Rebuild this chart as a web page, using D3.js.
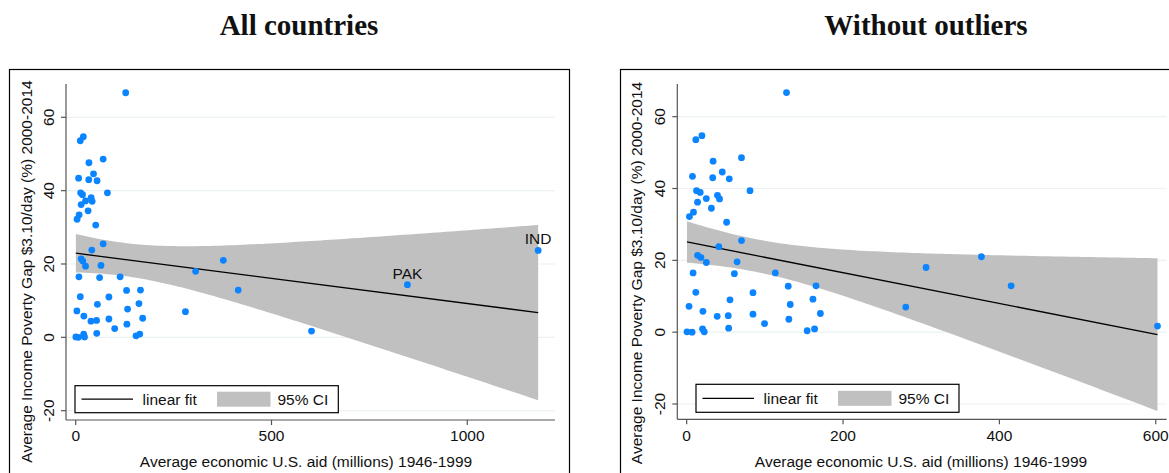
<!DOCTYPE html>
<html><head><meta charset="utf-8">
<script src="https://cdn.jsdelivr.net/npm/d3@7"></script>
<style>body{margin:0;background:#fff}svg{display:block}</style>
</head><body><svg id="c" width="1169" height="473"></svg>
<script>
// ---- data ----
const aidX = [127.7,11.7,19.5,7.4,33.8,70.1,45.5,33.3,54.5,12.6,17.3,81,25.1,39.4,42,13.9,31.6,8.7,3.5,51.1,70.1,41.1,13.9,18.2,25.1,64.5,113.4,8.2,61,11.7,84.8,129.9,165.4,55.4,161.5,132.5,3,171,20.8,84.8,53.2,39,130.7,99.6,53.7,163.6,154.1,0.4,6.9,20.3,22.5,280.2,306.2,377,415,602.2];
const gapY = [66.7,53.6,54.7,43.4,47.6,48.6,44.6,43.0,42.7,39.4,38.9,39.4,37.2,38.1,37.1,36.2,34.5,33.4,32.2,30.6,25.5,23.8,21.4,20.8,19.4,19.6,16.5,16.5,16.3,11.1,11.0,12.8,12.9,9.0,9.2,7.7,7.2,5.2,5.8,5.0,4.6,4.4,3.6,2.4,1.1,0.9,0.4,0.1,0,0.9,0.1,7.0,18.0,21.0,12.9,1.7];
const outlierCodes = ["PAK","IND"];
const outlierX = [847, 1181];
const outlierY = [14.35, 23.7];
const panelTitles = ["All countries","Without outliers"];
const xTicksAll = [0,500,1000];
const xTicksTrim = [0,200,400,600];
const yTicks = [-20,0,20,40,60];
const yTitle = "Average Income Poverty Gap $3.10/day (%) 2000-2014";
const xTitle = "Average economic U.S. aid (millions) 1946-1999";
const legendLabels = ["linear fit","95% CI"];

// ---- helpers ----
function tQuant(df){ // 97.5% quantile of t distribution (Cornish-Fisher expansion)
  const z = 1.959964;
  return z + (z**3+z)/(4*df) + (5*z**5+16*z**3+3*z)/(96*df*df) + (3*z**7+19*z**5+17*z**3-15*z)/(384*df**3);
}
function linfit(xs, ys){
  const n = xs.length, mx = d3.mean(xs), my = d3.mean(ys);
  let sxx=0, sxy=0;
  for(let i=0;i<n;i++){ sxx += (xs[i]-mx)**2; sxy += (xs[i]-mx)*(ys[i]-my); }
  const b = sxy/sxx, a = my - b*mx;
  let sse=0; for(let i=0;i<n;i++) sse += (ys[i]-a-b*xs[i])**2;
  const s = Math.sqrt(sse/(n-2)), t = tQuant(n-2);
  return {pred: x => a+b*x, half: x => t*s*Math.sqrt(1/n + (x-mx)**2/sxx)};
}

const svg = d3.select("#c");
const sans = "'Liberation Sans', Arial, sans-serif";
const FS = 15.5;

function panel(cfg){
  const g = svg.append("g");
  g.append("rect").attr("x",cfg.box[0]).attr("y",cfg.box[1]).attr("width",cfg.box[2]).attr("height",cfg.box[3])
    .attr("fill","none").attr("stroke","#000").attr("stroke-width",1.2);
  svg.append("text").attr("x",cfg.titleX).attr("y",35).attr("text-anchor","middle")
    .attr("font-family","'Liberation Serif', 'Times New Roman', serif").attr("font-weight","bold")
    .attr("font-size",29).attr("fill","#111").text(cfg.title);

  const x = d3.scaleLinear().domain(cfg.xDom).range(cfg.xRange);
  const y = d3.scaleLinear().domain(cfg.yDom).range(cfg.yRange);
  const [L,R] = cfg.xRange, [B,T] = cfg.yRange;

  g.selectAll(".grid").data(yTicks).join("line")
    .attr("x1",L).attr("x2",R).attr("y1",d=>y(d)).attr("y2",d=>y(d))
    .attr("stroke","#eaf2f3").attr("stroke-width",1.2);

  const f = linfit(cfg.xs, cfg.ys);
  const x0 = d3.min(cfg.xs), x1 = d3.max(cfg.xs);
  const grid = d3.range(0,101).map(i => x0 + (x1-x0)*i/100);
  g.append("path").datum(grid)
    .attr("d", d3.area().x(d=>x(d)).y0(d=>y(f.pred(d)-f.half(d))).y1(d=>y(f.pred(d)+f.half(d))))
    .attr("fill","#c0c0c0");
  g.append("line").attr("x1",x(x0)).attr("x2",x(x1)).attr("y1",y(f.pred(x0))).attr("y2",y(f.pred(x1)))
    .attr("stroke","#000").attr("stroke-width",1.3);

  g.selectAll(".pt").data(d3.range(cfg.xs.length)).join("circle")
    .attr("cx",i=>x(cfg.xs[i])).attr("cy",i=>y(cfg.ys[i])).attr("r",3.4).attr("fill","#0a84ff");
  if(cfg.labels){
    g.selectAll(".lab").data(d3.range(cfg.labels.length)).join("text")
      .attr("x",i=>x(cfg.labX[i])).attr("y",i=>y(cfg.labY[i])-6).attr("text-anchor","middle")
      .attr("font-family",sans).attr("font-size",FS).attr("fill","#111").text(i=>cfg.labels[i]);
  }

  const axCol = "#555";
  g.append("line").attr("x1",L).attr("x2",L).attr("y1",T).attr("y2",B).attr("stroke",axCol).attr("stroke-width",1.2);
  g.append("line").attr("x1",L).attr("x2",R).attr("y1",B).attr("y2",B).attr("stroke",axCol).attr("stroke-width",1.2);
  g.selectAll(".yt").data(yTicks).join("line").attr("x1",L-5).attr("x2",L).attr("y1",d=>y(d)).attr("y2",d=>y(d))
    .attr("stroke",axCol).attr("stroke-width",1.2);
  g.selectAll(".ytl").data(yTicks).join("text")
    .attr("transform",d=>`translate(${L-12.5},${y(d)}) rotate(-90)`).attr("text-anchor","middle")
    .attr("font-family",sans).attr("font-size",FS).attr("fill","#111").text(d=>d);
  g.selectAll(".xt").data(cfg.xTicks).join("line").attr("x1",d=>x(d)).attr("x2",d=>x(d)).attr("y1",B).attr("y2",B+5)
    .attr("stroke",axCol).attr("stroke-width",1.2);
  g.selectAll(".xtl").data(cfg.xTicks).join("text")
    .attr("x",d=>x(d)).attr("y",440.5).attr("text-anchor","middle")
    .attr("font-family",sans).attr("font-size",FS).attr("fill","#111").text(d=>d);
  g.append("text").attr("x",cfg.xTitleX).attr("y",466.5).attr("text-anchor","middle")
    .attr("font-family",sans).attr("font-size",FS).attr("fill","#111").text(xTitle);
  g.append("text").attr("transform",`translate(${cfg.yTitleX},${cfg.yTitleY}) rotate(-90)`).attr("text-anchor","middle")
    .attr("font-family",sans).attr("font-size",FS).attr("fill","#111").text(yTitle);

  const lg = cfg.legend;
  g.append("rect").attr("x",lg[0]).attr("y",lg[1]).attr("width",lg[2]).attr("height",lg[3])
    .attr("fill","#fff").attr("stroke","#000").attr("stroke-width",1.2);
  const my = lg[1]+lg[3]/2;
  g.append("line").attr("x1",lg[0]+6.5).attr("x2",lg[0]+58).attr("y1",my).attr("y2",my).attr("stroke","#000").attr("stroke-width",1.3);
  g.append("text").attr("x",lg[0]+67.5).attr("y",my+5.5).attr("font-family",sans).attr("font-size",FS).attr("fill","#111").text(legendLabels[0]);
  g.append("rect").attr("x",lg[0]+142).attr("y",my-7.5).attr("width",53.5).attr("height",15).attr("fill","#c0c0c0");
  g.append("text").attr("x",lg[0]+202.5).attr("y",my+5.5).attr("font-family",sans).attr("font-size",FS).attr("fill","#111").text(legendLabels[1]);
}

panel({
  title: panelTitles[0], titleX: 299,
  box: [9.5,69.5,560,420],
  xs: aidX.concat(outlierX), ys: gapY.concat(outlierY),
  labels: outlierCodes, labX: outlierX, labY: outlierY,
  xDom: [-24.8,1224], xRange: [66,555],
  yDom: [-22.54,69.08], yRange: [420,84],
  xTicks: xTicksAll,
  xTitleX: 306, yTitleX: 32, yTitleY: 271.5,
  legend: [75,385.7,263.3,27]
});
panel({
  title: panelTitles[1], titleX: 926,
  box: [620.5,69.5,560,420],
  xs: aidX, ys: gapY,
  xDom: [-12.0,614], xRange: [677.3,1166.7],
  yDom: [-24.26,69.1], yRange: [419.3,84],
  xTicks: xTicksTrim,
  xTitleX: 921, yTitleX: 642, yTitleY: 273,
  legend: [696,384.3,263,28]
});
</script></body></html>
